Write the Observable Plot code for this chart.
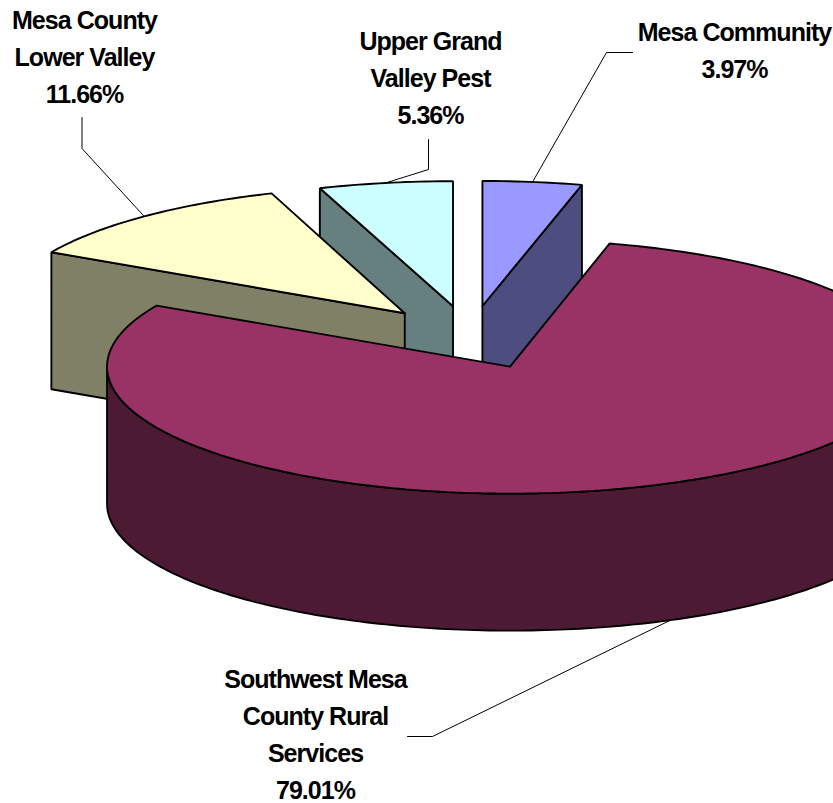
<!DOCTYPE html>
<html>
<head>
<meta charset="utf-8">
<script src="https://cdn.jsdelivr.net/npm/d3@7"></script>
<script src="https://cdn.jsdelivr.net/npm/@observablehq/plot@0.6"></script>
<style>html,body{margin:0;padding:0;background:#fff;overflow:hidden}</style>
</head>
<body>
<div id="chart"></div>
<script>
// Data, in drawing order clockwise from twelve o'clock
const names = ["Mesa Community", "Southwest Mesa\nCounty Rural\nServices", "Mesa County\nLower Valley", "Upper Grand\nValley Pest"];
const shares = [3.97, 79.01, 11.66, 5.36];
const topColors = ["#9999FF", "#993366", "#FFFFCC", "#CCFFFF"];
const sideColors = ["#4D4D80", "#4D1A33", "#808066", "#668080"];

// Pie geometry
const W = 833, H = 803;
const cx = 469.4, cy = 337, rx = 403, ry = 127, depth = 137, explode = 0.25;
const backRy = [125, 127, 127, 125];
const rad = d => d * Math.PI / 180;

let acc = 0;
const slices = shares.map((v, i) => {
  const a0 = acc, a1 = acc + v * 3.6;
  acc = a1;
  const mid = (a0 + a1) / 2;
  const ax = cx + explode * rx * Math.sin(rad(mid));
  const ay = cy - explode * ry * Math.cos(rad(mid));
  return {i, a0, a1, mid, ax, ay, ry: backRy[i]};
});
const rim = (s, a, dz = 0) => ({x: s.ax + rx * Math.sin(rad(a)), y: s.ay - s.ry * Math.cos(rad(a)) + dz});
const arc = (s, from, to, dz = 0) => {
  const n = Math.max(2, Math.ceil(Math.abs(to - from)));
  return d3.range(n + 1).map(k => rim(s, from + (to - from) * k / n, dz));
};
const apex = (s, dz = 0) => ({x: s.ax, y: s.ay + dz});
const close = pts => [...pts, pts[0]];

const face = (pts, fill) => Plot.line(close(pts), {
  x: "x", y: "y", fill, stroke: "#000", strokeWidth: 1.9, strokeLinejoin: "miter", clip: true
});

const [mesa, big, lower, upper] = slices;
const faces = [
  face([apex(mesa), rim(mesa, mesa.a1), rim(mesa, mesa.a1, depth), apex(mesa, depth)], sideColors[0]),
  face([apex(mesa), ...arc(mesa, mesa.a0, mesa.a1)], topColors[0]),
  face([apex(upper), rim(upper, upper.a0), rim(upper, upper.a0, depth), apex(upper, depth)], sideColors[3]),
  face([apex(upper), ...arc(upper, upper.a0, upper.a1)], topColors[3]),
  face([apex(lower), rim(lower, lower.a0), rim(lower, lower.a0, depth), apex(lower, depth)], sideColors[2]),
  face([apex(lower), ...arc(lower, lower.a0, lower.a1)], topColors[2]),
  face([...arc(big, 90, 270), ...arc(big, 270, 90, depth)], sideColors[1]),
  face([apex(big), ...arc(big, big.a0, big.a1)], topColors[1])
];

// Leader lines start on each slice rim at its mid angle
const leaderBends = [
  [[606, 52], [632, 52]],
  [[432, 736], [407, 736]],
  [[81.5, 148], [81.5, 117]],
  [[428, 169], [428, 139]]
];
const leaders = slices.map((s, i) => {
  const start = rim(s, s.mid, s === big ? depth : 0);
  const pts = [start, ...leaderBends[i].map(([x, y]) => ({x, y}))];
  return Plot.line(pts, {x: "x", y: "y", stroke: "#000", strokeWidth: 1, clip: true});
});

const labelPos = [[734, 47.5], [315, 731.5], [84, 53.5], [430, 74.5]];
const labelRows = names.map((n, i) => ({
  text: `${n}\n${shares[i].toFixed(2)}%`, x: labelPos[i][0], y: labelPos[i][1]
}));

const chart = Plot.plot({
  width: W, height: H,
  marginTop: 0, marginRight: 0, marginBottom: 0, marginLeft: 0,
  x: {domain: [0, W], range: [0, W], axis: null},
  y: {domain: [0, H], range: [0, H], axis: null},
  style: {background: "#fff", letterSpacing: "-0.96px", overflow: "hidden"},
  marks: [
    ...leaders,
    ...faces,
    Plot.text(labelRows, {
      x: "x", y: "y", text: "text", textAnchor: "middle", lineAnchor: "middle",
      lineHeight: 1.48, fontFamily: "Liberation Sans, Arial, sans-serif",
      fontWeight: "bold", fontSize: 25, fill: "#000"
    })
  ]
});
document.getElementById("chart").appendChild(chart);
</script>
</body>
</html>
